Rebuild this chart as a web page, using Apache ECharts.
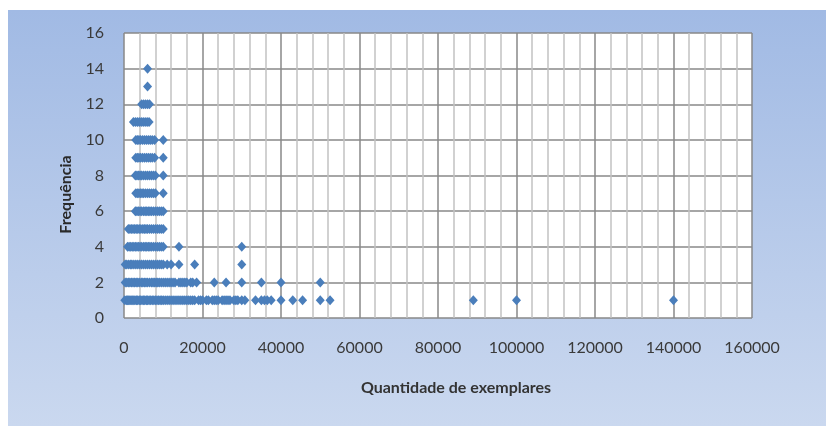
<!DOCTYPE html>
<html>
<head>
<meta charset="utf-8">
<title>Frequência por quantidade de exemplares</title>
<script src="https://cdn.jsdelivr.net/npm/echarts@6/dist/echarts.min.js"></script>
<style>
  html, body { margin: 0; padding: 0; background: #ffffff; }
  #chart { width: 826px; height: 426px; }
</style>
</head>
<body>
<div id="chart"></div>
<script>
// Quantities (number of copies) observed at each frequency level
const qtyFreq1 = [200, 600, 900, 1200, 1500, 1800, 2100, 2500, 2800, 3200, 3500, 3900, 4200, 4600, 5000, 5300,
  5700, 6000, 6400, 6800, 7200, 7600, 8000, 8400, 8800, 9200, 9600, 10000, 10500, 11000, 11500, 12000, 12500,
  13000, 13500, 14000, 14500, 15000, 15500, 16000, 16500, 17000, 17500, 18000, 19000, 19500, 20000, 21000,
  21500, 22500, 23000, 23500, 24000, 25000, 25500, 26000, 26500, 27000, 28000, 28500, 29000, 30000, 30800,
  33500, 35000, 35800, 36500, 37500, 40000, 43000, 45500, 50000, 52500, 89000, 100000, 140000];
const qtyFreq2 = [300, 700, 1100, 1500, 1900, 2300, 2700, 3100, 3500, 3900, 4400, 4800, 5200, 5600, 6000, 6500,
  7000, 7400, 7800, 8200, 8600, 9000, 9500, 10000, 10500, 11000, 11500, 12000, 12500, 13000, 14000, 14500,
  15000, 15500, 16000, 17000, 17500, 18500, 23000, 26000, 30000, 35000, 40000, 50000];
const qtyFreq3 = [300, 700, 1200, 1700, 2000, 2500, 3000, 3500, 4000, 4500, 5000, 5500, 6000, 6500, 7000, 7500,
  8000, 8500, 9000, 9500, 10000, 11000, 12000, 14000, 18000, 30000];
const qtyFreq4 = [900, 1300, 1700, 2100, 2500, 2900, 3300, 3700, 4100, 4500, 5000, 5400, 5800, 6200, 6600, 7000,
  7500, 8000, 8500, 9000, 9500, 10000, 14000, 30000];
const qtyFreq5 = [1100, 1500, 1900, 2300, 2700, 3100, 3500, 3900, 4300, 4800, 5200, 5600, 6000, 6500, 7000, 7500,
  8000, 8500, 9000, 9500, 10000];
const qtyFreq6 = [2900, 3300, 3700, 4100, 4500, 5000, 5400, 5800, 6200, 6600, 7000, 7500, 8000, 8500, 9000,
  9500, 10000];
const qtyFreq7 = [3000, 3400, 3800, 4200, 4600, 5000, 5500, 6000, 6500, 7000, 7500, 8000, 10000];
const qtyFreq8 = [2900, 3300, 3700, 4100, 4500, 5000, 5500, 6000, 6500, 7000, 7500, 8000, 10000];
const qtyFreq9 = [3000, 3400, 3800, 4200, 4700, 5200, 5700, 6200, 6700, 7200, 7800, 10000];
const qtyFreq10 = [3000, 3400, 3800, 4200, 4700, 5200, 5700, 6200, 6700, 7200, 7800, 10000];
const qtyFreq11 = [2400, 2900, 3400, 3900, 4400, 4900, 5400, 5900, 6400];
const qtyFreq12 = [4500, 5000, 5500, 6000, 6500];
const qtyFreq13 = [6000];
const qtyFreq14 = [6000];

const levels = [
  [1, qtyFreq1], [2, qtyFreq2], [3, qtyFreq3], [4, qtyFreq4], [5, qtyFreq5],
  [6, qtyFreq6], [7, qtyFreq7], [8, qtyFreq8], [9, qtyFreq9], [10, qtyFreq10],
  [11, qtyFreq11], [12, qtyFreq12], [13, qtyFreq13], [14, qtyFreq14]
];

// Axis settings
const xAxisMax = 160000;
const xAxisStep = 20000;
const yAxisMax = 16;
const yAxisStep = 2;

const points = [];
levels.forEach(([freq, list]) => list.forEach(q => points.push([q, freq])));

const labelFont = 'Lato, "Open Sans", sans-serif';

const chart = echarts.init(document.getElementById('chart'), null, { renderer: 'canvas' });
chart.setOption({
  animation: false,
  graphic: {
    elements: [{
      type: 'rect',
      z: -100,
      silent: true,
      shape: { x: 8, y: 10, width: 818, height: 416 },
      style: {
        fill: new echarts.graphic.LinearGradient(0, 0, 0, 1, [
          { offset: 0, color: '#a1bae4' },
          { offset: 1, color: '#cad8ef' }
        ])
      }
    }]
  },
  grid: {
    left: 124, right: 74, top: 33, bottom: 108,
    show: true, backgroundColor: '#ffffff', borderWidth: 0
  },
  xAxis: {
    type: 'value',
    min: 0, max: xAxisMax, interval: xAxisStep,
    name: 'Quantidade de exemplares',
    nameLocation: 'middle',
    nameGap: 62,
    nameTextStyle: { fontFamily: labelFont, fontWeight: 'bold', fontSize: 16, color: '#333333', padding: [0, 0, 0, 36] },
    axisLine: { show: false },
    axisTick: { show: false },
    axisLabel: {
      fontFamily: labelFont, fontSize: 16, color: '#3a3a3a', margin: 22,
      formatter: v => String(v)
    },
    splitLine: { show: true, lineStyle: { color: '#888888', width: 1.5 } },
    minorTick: { show: false, splitNumber: 5 },
    minorSplitLine: { show: true, lineStyle: { color: '#c2c2c2', width: 1.5 } }
  },
  yAxis: {
    type: 'value',
    min: 0, max: yAxisMax, interval: yAxisStep,
    name: 'Frequência',
    nameLocation: 'middle',
    nameGap: 50,
    nameTextStyle: { fontFamily: labelFont, fontWeight: 'bold', fontSize: 16, color: '#2a2a2a', padding: [0, 38, 0, 0] },
    axisLine: { show: false },
    axisTick: { show: false },
    axisLabel: { fontFamily: labelFont, fontSize: 16, color: '#3a3a3a', margin: 20 },
    splitLine: { show: true, lineStyle: { color: '#888888', width: 1.5 } }
  },
  series: [{
    type: 'scatter',
    data: points,
    symbol: 'diamond',
    symbolSize: [9, 10],
    itemStyle: { color: '#4a7ebb', opacity: 1 }
  }]
});
</script>
</body>
</html>
